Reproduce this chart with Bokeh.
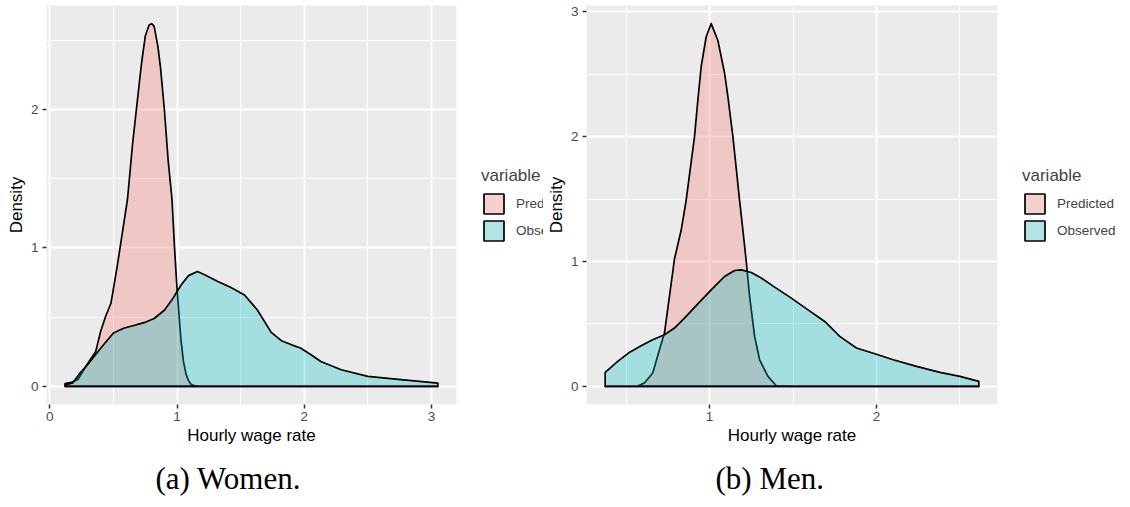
from bokeh.plotting import figure
from bokeh.layouts import row
from bokeh.models import Range1d, FixedTicker, Legend, LegendItem, Title
from bokeh.embed import file_html
from bokeh.resources import INLINE

# ---------------- data ----------------
categories = ["Predicted", "Observed"]

women_pred_x = [0.12, 0.17, 0.22, 0.28, 0.33, 0.36, 0.40, 0.44, 0.48, 0.53, 0.57, 0.61, 0.65, 0.68,
                0.72, 0.75, 0.78, 0.80, 0.82, 0.85, 0.87, 0.90, 0.93, 0.96, 0.98, 1.00, 1.03, 1.05,
                1.07, 1.09, 1.11, 1.14, 1.17, 1.5, 2.0, 2.5, 3.05]
women_pred_y = [0.02, 0.03, 0.05, 0.14, 0.21, 0.25, 0.40, 0.51, 0.60, 0.87, 1.11, 1.35, 1.75, 2.0,
                2.33, 2.53, 2.61, 2.62, 2.60, 2.45, 2.30, 2.0, 1.63, 1.35, 1.0, 0.70, 0.34, 0.18,
                0.09, 0.04, 0.015, 0.003, 0.0, 0.0, 0.0, 0.0, 0.0]

women_obs_x = [0.12, 0.18, 0.24, 0.30, 0.36, 0.43, 0.50, 0.58, 0.66, 0.74, 0.82, 0.90, 0.96, 1.03,
               1.09, 1.16, 1.22, 1.32, 1.42, 1.53, 1.63, 1.74, 1.82, 1.90, 1.97, 2.05, 2.13, 2.29,
               2.50, 2.76, 3.05]
women_obs_y = [0.01, 0.025, 0.10, 0.16, 0.23, 0.31, 0.385, 0.42, 0.44, 0.46, 0.49, 0.55, 0.625, 0.73,
               0.80, 0.83, 0.805, 0.757, 0.716, 0.66, 0.553, 0.39, 0.33, 0.30, 0.277, 0.23, 0.18, 0.12,
               0.072, 0.048, 0.024]

men_pred_x = [0.375, 0.45, 0.52, 0.57, 0.61, 0.66, 0.70, 0.73, 0.76, 0.79, 0.83, 0.86, 0.91, 0.93,
              0.95, 0.98, 1.01, 1.05, 1.09, 1.11, 1.14, 1.18, 1.20, 1.22, 1.24, 1.27, 1.30, 1.35,
              1.40, 1.5, 2.0, 2.613]
men_pred_y = [0.0, 0.0, 0.0, 0.002, 0.027, 0.107, 0.293, 0.427, 0.72, 1.02, 1.25, 1.49, 2.0, 2.29,
              2.56, 2.80, 2.905, 2.77, 2.51, 2.32, 2.0, 1.49, 1.25, 1.0, 0.72, 0.40, 0.213, 0.08,
              0.005, 0.0, 0.0, 0.0]

men_obs_x = [0.375, 0.45, 0.52, 0.59, 0.66, 0.73, 0.79, 0.85, 0.93, 1.01, 1.09, 1.15, 1.19, 1.25,
             1.31, 1.39, 1.49, 1.59, 1.69, 1.78, 1.88, 1.99, 2.10, 2.24, 2.38, 2.50, 2.613]
men_obs_y = [0.112, 0.20, 0.272, 0.325, 0.373, 0.413, 0.467, 0.547, 0.661, 0.773, 0.88, 0.928, 0.933,
             0.912, 0.867, 0.795, 0.707, 0.613, 0.52, 0.40, 0.307, 0.261, 0.213, 0.16, 0.112, 0.08, 0.04]

women_x_ticks = [0, 1, 2, 3]
women_y_ticks = [0, 1, 2]
men_x_ticks = [1, 2]
men_y_ticks = [0, 1, 2, 3]
minor_ticks = [0.5, 1.5, 2.5]

x_label = "Hourly wage rate"
y_label = "Density"
legend_title = "variable"
captions = ["(a) Women.", "(b) Men."]

# ---------------- styling ----------------
FILL = {"Predicted": "#F8766D", "Observed": "#00BFC4"}
KEY = {"Predicted": "#F4D0CE", "Observed": "#B2E4E5"}
SANS = "Liberation Sans"
H = 507


def expand(lo, hi, frac=0.05):
    d = (hi - lo) * frac
    return lo - d, hi + d


def panel(px, py, ox, oy, xt, yt, width, left, right, caption, cap_offset):
    xlo, xhi = expand(min(px + ox), max(px + ox))
    ylo, yhi = expand(0.0, max(py + oy))
    p = figure(width=width, height=H, output_backend="svg", toolbar_location=None,
               x_range=Range1d(xlo, xhi), y_range=Range1d(ylo, yhi),
               min_border_left=left, min_border_right=right, min_border_top=5, min_border_bottom=103)
    p.background_fill_color = "#EBEBEB"
    p.border_fill_color = "white"
    p.outline_line_color = None

    p.xaxis.ticker = FixedTicker(ticks=xt, minor_ticks=minor_ticks)
    p.yaxis.ticker = FixedTicker(ticks=yt, minor_ticks=minor_ticks)
    for g in (p.xgrid[0], p.ygrid[0]):
        g.grid_line_color = "white"
        g.grid_line_width = 2
        g.minor_grid_line_color = "white"
        g.minor_grid_line_width = 1
    for ax in (p.xaxis[0], p.yaxis[0]):
        ax.axis_line_color = None
        ax.minor_tick_line_color = None
        ax.major_tick_line_color = "#333333"
        ax.major_tick_line_width = 1.5
        ax.major_tick_in = 0
        ax.major_tick_out = 4
        ax.major_label_text_font = SANS
        ax.major_label_text_font_size = "13.5px"
        ax.major_label_text_color = "#4D4D4D"
        ax.axis_label_text_font = SANS
        ax.axis_label_text_font_size = "17px"
        ax.axis_label_text_font_style = "normal"
        ax.axis_label_text_color = "black"
    p.xaxis.axis_label = x_label
    p.yaxis.axis_label = y_label
    p.xaxis.major_label_standoff = 3
    p.xaxis.axis_label_standoff = 2
    p.yaxis.major_label_standoff = 4
    p.yaxis.axis_label_standoff = 2

    # density areas (Predicted first, Observed on top)
    for name, xs, ys in (("Predicted", px, py), ("Observed", ox, oy)):
        p.patch(xs + [xs[-1], xs[0]], ys + [0.0, 0.0], fill_color=FILL[name], fill_alpha=0.3,
                line_color="black", line_width=1.7, line_join="round")

    p.add_layout(Title(text=caption, align="left", offset=cap_offset, standoff=22,
                       text_font="Liberation Serif", text_font_size="31px",
                       text_font_style="normal", text_color="black"), "below")
    return p


def legend_box(width, lx):
    q = figure(width=width, height=H, output_backend="svg", toolbar_location=None,
               x_range=Range1d(0, 1), y_range=Range1d(0, 1),
               x_axis_location=None, y_axis_location=None,
               min_border_left=0, min_border_right=0, min_border_top=0, min_border_bottom=0)
    q.grid.visible = False
    q.outline_line_color = None
    q.background_fill_color = "white"
    q.border_fill_color = "white"
    items = []
    for name in categories:
        # legend proxy: kept outside the visible range so only its legend key shows
        r = q.patch([5, 6, 6], [5, 5, 6], fill_color=KEY[name], line_color="black", line_width=1.7)
        items.append(LegendItem(label=name, renderers=[r]))
    leg = Legend(items=items, location=(lx, 161), title=legend_title,
                 title_text_font=SANS, title_text_font_size="17px", title_text_font_style="normal",
                 title_standoff=5, label_text_font=SANS, label_text_font_size="13.5px",
                 glyph_width=25, glyph_height=25, spacing=2, label_standoff=10, label_height=20,
                 padding=0, margin=0, border_line_color=None, background_fill_alpha=0)
    q.add_layout(leg, "center")
    return q


left = panel(women_pred_x, women_pred_y, women_obs_x, women_obs_y,
             women_x_ticks, women_y_ticks, 470, 46, 14, captions[0], 109)
left_leg = legend_box(73, 11)
right = panel(men_pred_x, men_pred_y, men_obs_x, men_obs_y,
              men_x_ticks, men_y_ticks, 467, 43, 13, captions[1], 129)
right_leg = legend_box(120, 12)

layout = row(left, left_leg, right, right_leg, spacing=0)
open("out.html", "w").write(file_html(layout, INLINE))
